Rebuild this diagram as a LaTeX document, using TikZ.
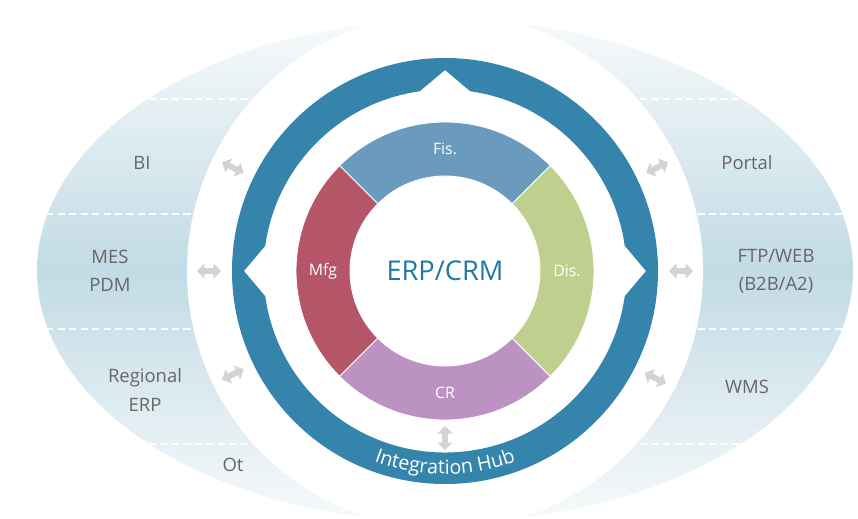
\documentclass[tikz,border=0pt]{standalone}
\usepackage{fontspec}
\setmainfont{Open Sans}
\usetikzlibrary{arrows.meta, decorations.text}

\definecolor{hubblue}{HTML}{3584AC}
\definecolor{erpblue}{HTML}{1F7AA6}
\definecolor{fiscol}{HTML}{6A9BBE}
\definecolor{discol}{HTML}{BFCF8E}
\definecolor{crcol}{HTML}{BB92C2}
\definecolor{mfgcol}{HTML}{B55668}
\definecolor{labelgray}{HTML}{666666}
\definecolor{arrowgray}{HTML}{D3D3D3}
\definecolor{bandmid}{HTML}{C2DBE5}
\definecolor{bandedge}{HTML}{F7FAFB}

\begin{document}
\begin{tikzpicture}
% styles for the labels, the small arrows and the dashed dividers
 \tikzset{
sysname/.style = {text=labelgray, font=\fontsize{10.5}{16}\selectfont, align=center},
modname/.style = {text=white, font=\fontsize{9}{11}\selectfont},
linkarrow/.style = {draw=arrowgray, line width=0.12cm, {Triangle[width=0.3cm,length=0.15cm]}-{Triangle[width=0.3cm,length=0.15cm]}},
divider/.style = {draw=white, line width=1.3pt, dash pattern=on 4pt off 2.5pt},
}
 \useasboundingbox (-8.9,-4.94) rectangle (8.26,5.42);

 % Outer band with the connected systems
 \shade[top color=bandedge, bottom color=bandedge, middle color=bandmid] (0,0) ellipse [x radius=8.16, y radius=5.02];
 \begin{scope}
 \clip (0,0) ellipse [x radius=8.16, y radius=5.02];
 \draw [divider] (-8.2,3.44) -- (8.2,3.44);
 \draw [divider] (-8.2,1.14) -- (8.2,1.14);
 \draw [divider] (-8.2,-1.16) -- (8.2,-1.16);
 \draw [divider] (-8.2,-3.46) -- (8.2,-3.46);
 \end{scope}
 \fill [white] (0,0) circle [radius=5.16];

 % Integration hub ring
 \fill [hubblue, even odd rule] (0,0) circle [radius=4.26]
   (8:3.63) arc [start angle=8, end angle=82, radius=3.63] -- (90:4.02) -- (98:3.63)
   arc [start angle=98, end angle=172, radius=3.63] -- (180:4.02) -- (188:3.63)
   arc [start angle=188, end angle=352, radius=3.63] -- (0:4.02) -- cycle;
 \path [decorate, decoration={text along path, text align=center,
   text={|\fontsize{11.2}{13}\selectfont\color{white}|Integration Hub}}]
   (220:4.06) arc [start angle=220, end angle=320, radius=4.06];

 % Core modules
 \fill [fiscol, draw=white, line width=0.5pt] (45:2.98) arc [start angle=45, end angle=135, radius=2.98] -- (135:1.9) arc [start angle=135, end angle=45, radius=1.9] -- cycle;
 \fill [mfgcol, draw=white, line width=0.5pt] (135:2.98) arc [start angle=135, end angle=225, radius=2.98] -- (225:1.9) arc [start angle=225, end angle=135, radius=1.9] -- cycle;
 \fill [crcol, draw=white, line width=0.5pt] (225:2.98) arc [start angle=225, end angle=315, radius=2.98] -- (315:1.9) arc [start angle=315, end angle=225, radius=1.9] -- cycle;
 \fill [discol, draw=white, line width=0.5pt] (-45:2.98) arc [start angle=-45, end angle=45, radius=2.98] -- (45:1.9) arc [start angle=45, end angle=-45, radius=1.9] -- cycle;

 \node [modname] (fis) at (90:2.44) {Fis.};
 \node [modname] (dis) at (0:2.44) {Dis.};
 \node [modname] (cr) at (270:2.44) {CR};
 \node [modname] (mfg) at (180:2.44) {Mfg};
 \node [text=erpblue, font=\fontsize{15.5}{18}\selectfont] (erp) at (0,0) {ERP/CRM};

 % Connected systems, left side
 \node [sysname] (bi) at (-6.06,2.16) {BI};
 \node [sysname] (mes) at (-6.7,0) {MES\\PDM};
 \node [sysname] (regional) at (-6.0,-2.38) {Regional\\ERP};
 \node [sysname] (ot) at (-4.24,-3.88) {Ot};

 % Connected systems, right side
 \node [sysname] (portal) at (6.04,2.16) {Portal};
 \node [sysname] (ftp) at (6.62,0) {FTP/WEB\\(B2B/A2)};
 \node [sysname] (wms) at (6.04,-2.32) {WMS};

 % Links to the hub
 \coordinate (biA) at (154:4.48); \coordinate (biB) at (154:4.96);
 \coordinate (mesA) at (180:4.48); \coordinate (mesB) at (180:4.96);
 \coordinate (regA) at (206:4.48); \coordinate (regB) at (206:4.96);
 \coordinate (portA) at (26:4.48); \coordinate (portB) at (26:4.96);
 \coordinate (ftpA) at (0:4.48); \coordinate (ftpB) at (0:4.96);
 \coordinate (wmsA) at (-27:4.48); \coordinate (wmsB) at (-27:4.96);
 \coordinate (coreA) at (270:3.1); \coordinate (coreB) at (270:3.58);
 \draw [linkarrow] (biA) -- (biB);
 \draw [linkarrow] (mesA) -- (mesB);
 \draw [linkarrow] (regA) -- (regB);
 \draw [linkarrow] (portA) -- (portB);
 \draw [linkarrow] (ftpA) -- (ftpB);
 \draw [linkarrow] (wmsA) -- (wmsB);
 \draw [linkarrow] (coreA) -- (coreB);

\end{tikzpicture}
\end{document}
